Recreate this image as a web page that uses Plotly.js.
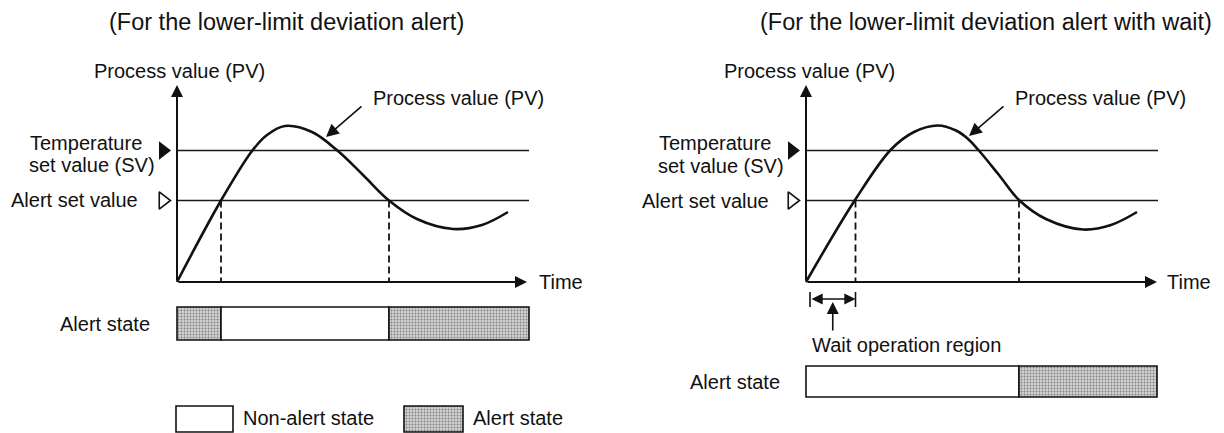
<!DOCTYPE html>
<html>
<head>
<meta charset="utf-8">
<script src="https://cdn.plot.ly/plotly-3.0.1.min.js"></script>
<style>html,body{margin:0;padding:0;background:#fff}#chart{width:1224px;height:433px}</style>
</head>
<body>
<div id="chart"></div>
<script>
// ---------------- data (arbitrary units: time, process value) ----------------
const leftTime  = [0, 44, 75, 90, 108, 135, 161, 187, 212, 240, 276, 305, 331];
const leftPV    = [0, 81.5, 131, 147, 156, 150, 131, 106, 81.5, 63, 53, 57, 70];
const rightTime = [0, 49, 85, 108, 132, 150, 161, 172, 193, 213, 240, 277, 305, 331];
const rightPV   = [0, 82, 132.5, 150, 156.5, 151.5, 144, 132.5, 107, 82, 63, 52.5, 57, 70];

const svLevel = 131.5;          // temperature set value (SV)
const alertLevel = 81.5;        // alert set value
const timeAxisEnd = 352;
const pvAxisTop = 197;

const leftCrossings  = [44, 212];      // PV crosses alert set value
const rightCrossings = [49.5, 213];
const waitRegion = [4, 49.5];          // wait operation region (right chart)

const leftStateEdges  = [0, 44, 212, 352];
const leftStateKinds  = ['alert', 'normal', 'alert'];
const rightStateEdges = [0, 213, 351];
const rightStateKinds = ['normal', 'alert'];

const titles = ['(For the lower-limit deviation alert)', '(For the lower-limit deviation alert with wait)'];
const legendLabels = ['Non-alert state', 'Alert state'];

// ---------------- layout constants ----------------
const W = 1224, H = 433;
const FONT = '"Liberation Sans", Arial, Helvetica, sans-serif';
const INK = '#111';
const leftBar  = {center: -41.5, height: 33};
const rightBar = {center: -99.5, height: 31};
const legendKey = {center: -137, height: 26, normalStart: -1, normalLen: 57, alertStart: 227, alertLen: 59};
const markerOffset = -14;

function patternMarker(kind) {
  if (kind === 'alert') {
    return {color: '#cdcdcd', line: {color: INK, width: 1.6},
            pattern: {shape: '.', fgcolor: '#808080', bgcolor: '#d2d2d2', size: 3, solidity: 0.3}};
  }
  return {color: 'white', line: {color: INK, width: 1.6}};
}

const traces = [];

function addPanel(xa, time, pv, crossings) {
  traces.push({type: 'scatter', mode: 'lines', xaxis: xa, yaxis: 'y',
    x: [0, timeAxisEnd, null, 0, timeAxisEnd], y: [svLevel, svLevel, null, alertLevel, alertLevel],
    line: {color: '#1a1a1a', width: 1.5}, hoverinfo: 'skip'});
  traces.push({type: 'scatter', mode: 'lines', xaxis: xa, yaxis: 'y',
    x: [crossings[0], crossings[0], null, crossings[1], crossings[1]],
    y: [alertLevel, 0, null, alertLevel, 0],
    line: {color: '#111', width: 1.8, dash: '7px,4px'}, hoverinfo: 'skip'});
  traces.push({type: 'scatter', mode: 'lines', xaxis: xa, yaxis: 'y', x: time, y: pv,
    line: {color: INK, width: 2.6, shape: 'spline', smoothing: 1}, hoverinfo: 'skip'});
  traces.push({type: 'scatter', mode: 'markers', xaxis: xa, yaxis: 'y',
    x: [markerOffset], y: [svLevel],
    marker: {symbol: 'triangle-right', size: 16, color: INK, line: {width: 0}}, hoverinfo: 'skip'});
  traces.push({type: 'scatter', mode: 'markers', xaxis: xa, yaxis: 'y',
    x: [markerOffset], y: [alertLevel],
    marker: {symbol: 'triangle-right', size: 15, color: 'white', line: {color: INK, width: 1.6}}, hoverinfo: 'skip'});
}

function addStateBar(xa, edges, kinds, bar) {
  for (let i = 0; i < kinds.length; i++) {
    traces.push({type: 'bar', orientation: 'h', xaxis: xa, yaxis: 'y',
      y: [bar.center], x: [edges[i + 1] - edges[i]], base: [edges[i]], width: [bar.height],
      marker: patternMarker(kinds[i]), hoverinfo: 'skip'});
  }
}

addPanel('x', leftTime, leftPV, leftCrossings);
addPanel('x2', rightTime, rightPV, rightCrossings);
addStateBar('x', leftStateEdges, leftStateKinds, leftBar);
addStateBar('x2', rightStateEdges, rightStateKinds, rightBar);

traces.push({type: 'bar', orientation: 'h', xaxis: 'x', yaxis: 'y', y: [legendKey.center],
  x: [legendKey.normalLen], base: [legendKey.normalStart], width: [legendKey.height],
  marker: patternMarker('normal'), hoverinfo: 'skip'});
traces.push({type: 'bar', orientation: 'h', xaxis: 'x', yaxis: 'y', y: [legendKey.center],
  x: [legendKey.alertLen], base: [legendKey.alertStart], width: [legendKey.height],
  marker: patternMarker('alert'), hoverinfo: 'skip'});

traces.push({type: 'scatter', mode: 'lines', xaxis: 'x2', yaxis: 'y',
  x: [waitRegion[0], waitRegion[0], null, waitRegion[1], waitRegion[1]],
  y: [-10, -25, null, -10, -25], line: {color: INK, width: 1.6}, hoverinfo: 'skip'});

// ---------------- annotations ----------------
function txt(text, px, py, opts) {
  return Object.assign({text: text, x: px / W, y: 1 - py / H, xref: 'paper', yref: 'paper',
    showarrow: false, xanchor: 'left', yanchor: 'middle',
    font: {family: FONT, size: 20, color: INK}}, opts || {});
}
function arrow(xa, x, y, ax, ay, opts) {
  return Object.assign({text: '', x: x, y: y, ax: ax, ay: ay, xref: xa, yref: 'y', axref: xa, ayref: 'y',
    showarrow: true, arrowhead: 2, arrowsize: 1.2, arrowwidth: 2, arrowcolor: INK, standoff: 0, startstandoff: 0}, opts || {});
}

const annotations = [
  txt(titles[0], 107, 22, {font: {family: FONT, size: 23.5, color: INK}}),
  txt(titles[1], 758, 22, {font: {family: FONT, size: 23.5, color: INK}}),
  txt('Process value (PV)', 92, 71),
  txt('Process value (PV)', 371, 98),
  txt('Temperature', 28, 143),
  txt('set value (SV)', 27, 165),
  txt('Alert set value', 9, 200),
  txt('Time', 537, 282),
  txt('Alert state', 152, 324, {xanchor: 'right'}),
  txt(legendLabels[0], 241, 418),
  txt(legendLabels[1], 471, 418),
  txt('Process value (PV)', 722, 71),
  txt('Process value (PV)', 1013, 98),
  txt('Temperature', 657, 143),
  txt('set value (SV)', 656, 166),
  txt('Alert set value', 640, 201),
  txt('Time', 1165, 282),
  txt('Wait operation region', 810, 345),
  txt('Alert state', 782, 382, {xanchor: 'right'}),
  arrow('x', 0, pvAxisTop, 0, 0),
  arrow('x', timeAxisEnd - 2, 0, 0, 0),
  arrow('x2', 0, pvAxisTop, 0, 0),
  arrow('x2', timeAxisEnd - 1, 0, 0, 0),
  arrow('x', 149, 145, 186, 177, {arrowwidth: 1.6, arrowsize: 1.6}),
  arrow('x2', 163, 146, 199, 177, {arrowwidth: 1.6, arrowsize: 1.6}),
  arrow('x2', waitRegion[1], -17, waitRegion[0], -17, {arrowside: 'end+start', arrowwidth: 1.6, arrowsize: 1.4}),
  arrow('x2', (waitRegion[0] + waitRegion[1]) / 2, -20, (waitRegion[0] + waitRegion[1]) / 2, -50, {arrowwidth: 1.6, arrowsize: 1.5})
];

const layout = {
  width: W, height: H, margin: {l: 0, r: 0, t: 0, b: 0},
  paper_bgcolor: 'white', plot_bgcolor: 'white', showlegend: false, barmode: 'overlay',
  xaxis:  {domain: [0, 0.5], range: [-177, 435], visible: false, fixedrange: true},
  xaxis2: {domain: [0.5, 1], range: [-194, 418], visible: false, fixedrange: true, anchor: 'y'},
  yaxis:  {domain: [0, 1], range: [-151, 282], visible: false, fixedrange: true},
  annotations: annotations
};

Plotly.newPlot('chart', traces, layout, {staticPlot: true, displayModeBar: false});
</script>
</body>
</html>
